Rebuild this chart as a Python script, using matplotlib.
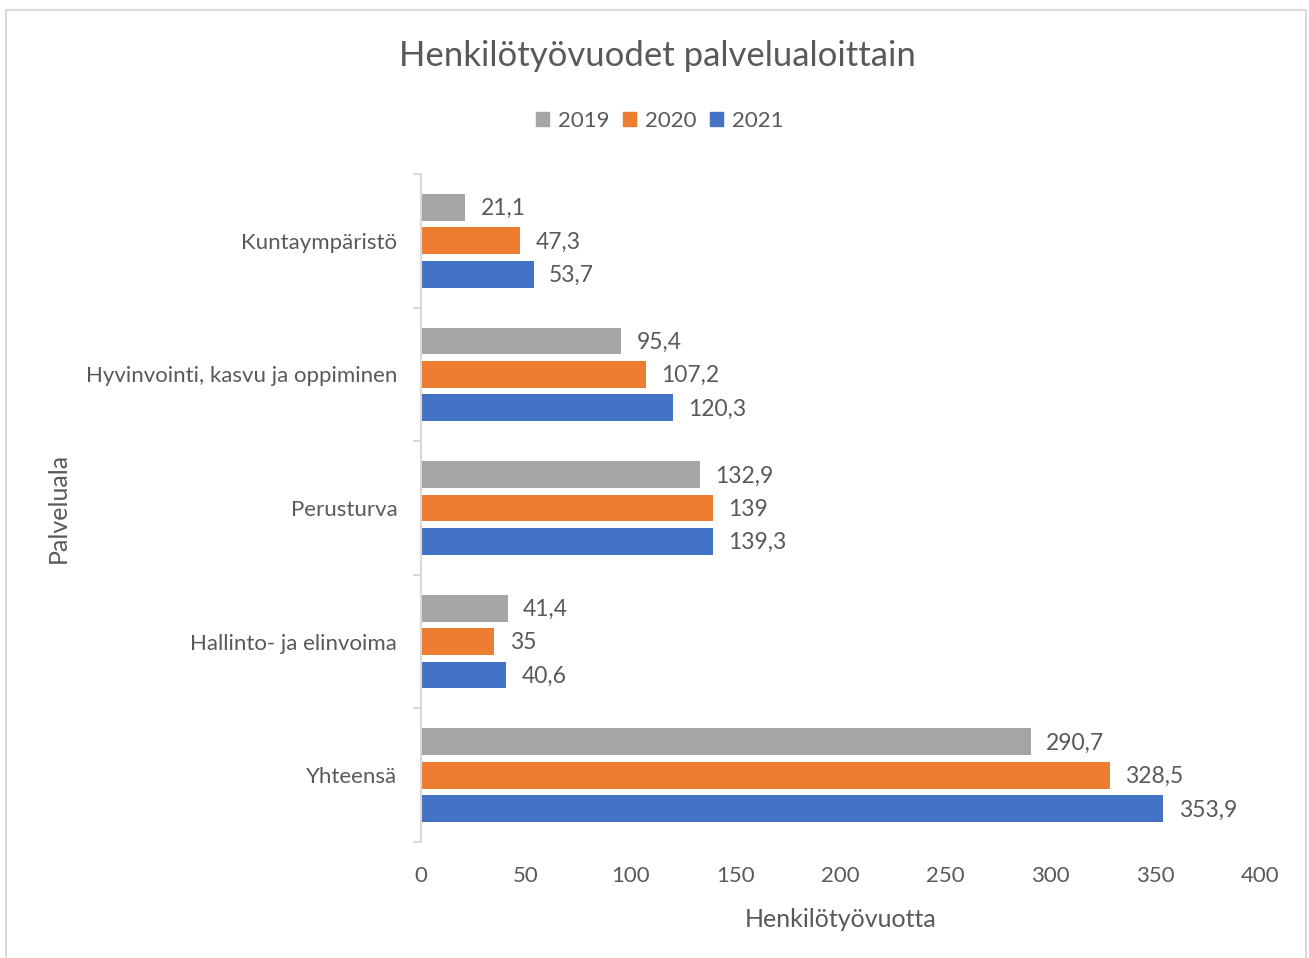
import matplotlib
matplotlib.use('Agg')
import matplotlib.pyplot as plt
from matplotlib.patches import Patch, Rectangle
import numpy as np

# data
categories = ['Kuntaympäristö', 'Hyvinvointi, kasvu ja oppiminen',
              'Perusturva', 'Hallinto- ja elinvoima', 'Yhteensä']
years = ['2019', '2020', '2021']
v2019 = [21.1, 95.4, 132.9, 41.4, 290.7]
v2020 = [47.3, 107.2, 139.0, 35.0, 328.5]
v2021 = [53.7, 120.3, 139.3, 40.6, 353.9]
x_ticks = [0, 50, 100, 150, 200, 250, 300, 350, 400]

colors = ['#A5A5A5', '#ED7D31', '#4472C4']
text_col = '#595959'
line_col = '#D9D9D9'

plt.rcParams['font.family'] = ['Lato', 'DejaVu Sans']


def fmt(v):
    s = f'{v:g}'
    return s.replace('.', ',')


fig = plt.figure(figsize=(13.09, 9.58), dpi=100)
ax = fig.add_axes([0.3216, 0.1211, 0.641, 0.6973])

pos = np.arange(len(categories))
offsets = [-0.25, 0.0, 0.25]
for vals, off, col, yr in zip([v2019, v2020, v2021], offsets, colors, years):
    bars = ax.barh(pos + off, vals, height=0.2, color=col, label=yr)
    for b, v in zip(bars, vals):
        ax.annotate(fmt(v), (b.get_width(), b.get_y() + b.get_height() / 2),
                    xytext=(11, -1), textcoords='offset points',
                    va='center', ha='left', fontsize=16.5, color=text_col)

ax.set_ylim(4.5, -0.5)
ax.set_xlim(0, 400)
ax.set_xticks(x_ticks)
ax.set_xticklabels([str(t) for t in x_ticks])
ax.set_yticks(pos)
ax.set_yticklabels(categories)
ax.set_yticks(np.arange(-0.5, len(categories), 1), minor=True)
ax.tick_params(axis='y', which='major', length=0, pad=17, labelsize=16,
               labelcolor=text_col)
ax.tick_params(axis='y', which='minor', length=6, width=1.5, color=line_col)
ax.tick_params(axis='x', length=0, pad=17, labelsize=16, labelcolor=text_col)

for side in ['top', 'right', 'bottom']:
    ax.spines[side].set_visible(False)
ax.spines['left'].set_color(line_col)
ax.spines['left'].set_linewidth(1.5)

ax.set_xlabel('Henkilötyövuotta', fontsize=18, color=text_col, labelpad=16)
ax.set_ylabel('Palveluala', fontsize=18, color=text_col)
ax.yaxis.set_label_coords(-0.418, 0.5)

fig.text(0.502, 0.942, 'Henkilötyövuodet palvelualoittain', ha='center',
         va='center', fontsize=25, color=text_col)

handles = [Patch(color=c, label=y) for c, y in zip(colors, years)]
fig.legend(handles=handles, loc='center', bbox_to_anchor=(0.504, 0.874),
           ncol=3, frameon=False, fontsize=16, handlelength=0.6,
           handleheight=0.6, handletextpad=0.4, columnspacing=0.6,
           labelcolor=text_col)

fig.patches.append(Rectangle((0.0046, -0.1), 0.9931, 1.0896,
                             transform=fig.transFigure, fill=False,
                             edgecolor=line_col, linewidth=1.5))

fig.savefig('out.png', dpi=100)
